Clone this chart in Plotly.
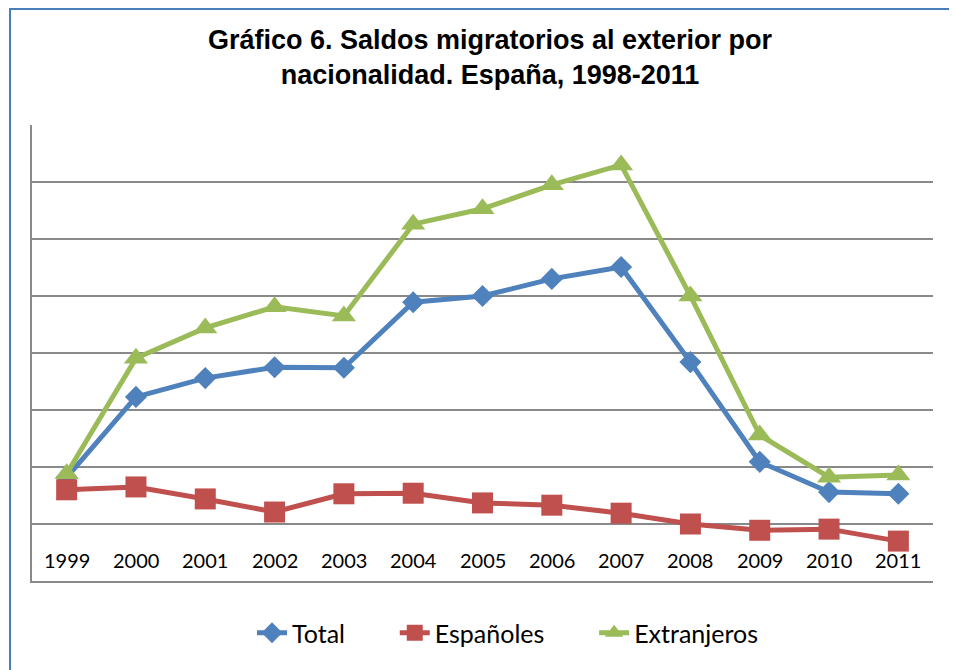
import plotly.graph_objects as go

years = ["1999", "2000", "2001", "2002", "2003", "2004", "2005", "2006",
         "2007", "2008", "2009", "2010", "2011"]
total = [82000, 223000, 256000, 275000, 274000, 389000, 400000, 430000,
         451000, 284000, 109000, 56000, 53000]
espanoles = [60000, 65000, 44000, 21000, 53000, 54000, 37000, 33000,
             19000, 0, -11000, -9000, -30000]
extranjeros = [88000, 291000, 344000, 381000, 365000, 526000, 553000, 595000,
               630000, 400000, 156000, 82000, 86000]

W, H = 957, 670
OFF = 8  # page body margin
L, R, T, B = 32 - OFF, 933 - OFF, 125 - OFF, 581 - OFF
pw, ph = R - L, B - T

def px(x):
    return (x - OFF - L) / pw

def py(y):
    return (B - (y - OFF)) / ph

GAP = "&nbsp;" * 7
fig = go.Figure()
series = [
    ("Total" + GAP, total, "#4F81BD", "diamond", 17),
    ("Españoles" + GAP, espanoles, "#C0504D", "square", 21),
    ("Extranjeros", extranjeros, "#9BBB59", "triangle-up", 21),
]
for name, vals, col, sym, sz in series:
    fig.add_trace(go.Scatter(
        x=list(range(len(years))), y=vals, name=name, mode="lines+markers",
        line=dict(color=col, width=5),
        marker=dict(symbol=sym, size=sz, color=col),
    ))

annotations = [
    dict(x=i, y=-63000, xref="x", yref="y", text=yr, showarrow=False,
         font=dict(family="Lato, Noto Sans, sans-serif", size=20, color="#000000"),
         xanchor="center", yanchor="middle")
    for i, yr in enumerate(years)
]

fig.update_layout(
    width=W, height=H,
    margin=dict(l=L, r=W - R, t=T, b=H - B),
    paper_bgcolor="white", plot_bgcolor="white",
    title=dict(
        text="<b>Gráfico 6. Saldos migratorios al exterior por<br>nacionalidad. España, 1998-2011</b>",
        x=px(490), xref="paper", xanchor="center",
        y=1 - 41 / H, yref="container", yanchor="top",
        font=dict(family="Liberation Sans, Arial, sans-serif", size=27, color="#000000"),
    ),
    xaxis=dict(
        range=[-0.5, len(years) - 0.5], showticklabels=False,
        showgrid=False, zeroline=False, showline=True, linecolor="#898989",
        linewidth=1.5, mirror=False, ticks="",
    ),
    yaxis=dict(
        range=[-100000, 700000], dtick=100000, showticklabels=False,
        showgrid=True, gridcolor="#898989", gridwidth=1.5, zeroline=False,
        showline=True, linecolor="#898989", linewidth=1.5, ticks="",
    ),
    legend=dict(
        orientation="h", x=px(252), xanchor="left", y=py(633), yanchor="middle",
        font=dict(family="Lato, Noto Sans, sans-serif", size=25, color="#000000"),
        traceorder="normal",
    ),
    annotations=annotations,
    shapes=[
        dict(type="rect", xref="paper", yref="paper",
             x0=px(10), x1=px(990), y0=py(700), y1=py(9),
             line=dict(color="#4A7EBB", width=2), layer="below"),
    ],
    showlegend=True,
)

fig.write_html("out.html")
